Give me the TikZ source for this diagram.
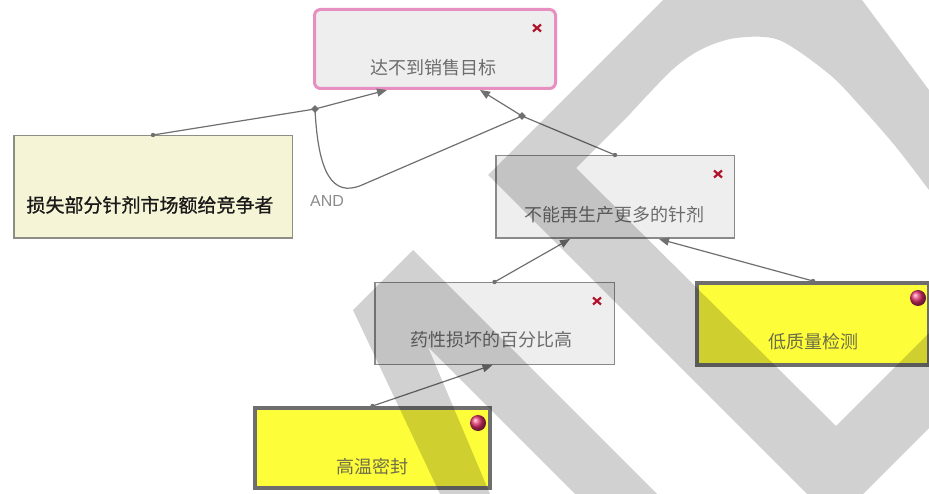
\documentclass[tikz,border=0pt]{standalone}
\usepackage{fontspec}
\setmainfont{Liberation Sans}
\newfontfamily\cjk{Noto Sans CJK SC}
\newfontfamily\cjkheavy[FakeBold=0.9]{Noto Sans CJK SC}
\usetikzlibrary{arrows.meta,calc,shapes.geometric}
\definecolor{boxgray}{HTML}{8A8A8A}
\definecolor{boxfill}{HTML}{EEEEEE}
\definecolor{leftfill}{HTML}{F6F4D6}
\definecolor{leftborder}{HTML}{8E8E84}
\definecolor{pinkb}{HTML}{E78FC0}
\definecolor{yell}{HTML}{FDFD3A}
\definecolor{yborder}{HTML}{6E6E6E}
\definecolor{linegray}{HTML}{707070}
\definecolor{txtgray}{HTML}{6C6C6C}
\definecolor{ytxt}{HTML}{6E6E48}
\definecolor{xred}{HTML}{B0142C}
\definecolor{ballc}{HTML}{E0306A}
\definecolor{andgray}{HTML}{8C8C8C}
\begin{document}
\begin{tikzpicture}[x=1pt,y=-1pt,
  graybox/.style={rectangle, draw=boxgray, line width=1.5pt, fill=boxfill, inner sep=0pt},
  topbox/.style={rectangle, rounded corners=6pt, draw=pinkb, line width=3pt, fill=boxfill, inner sep=0pt},
  leftbox/.style={rectangle, draw=leftborder, line width=1.5pt, fill=leftfill, inner sep=0pt},
  ybox/.style={rectangle, draw=yborder, line width=4pt, fill=yell, inner sep=0pt},
  txt/.style={inner sep=0pt, text height=15.8pt, text depth=2.2pt, font=\cjk\fontsize{18}{18}\selectfont, text=txtgray},
  conn/.style={draw=linegray, line width=1.2pt},
  arr/.style={-{Triangle[length=10pt,width=8pt]}},
  junc/.style={diamond, fill=linegray, inner sep=0pt, minimum size=8pt},
  wm/.style={fill=black, fill opacity=0.18},
  xm/.pic={\draw[line width=2.2pt, draw=xred] (-4,-3.5) -- (4,3.5) (-4,3.5) -- (4,-3.5);}
]
\useasboundingbox (0,0) rectangle (929,494);
\fill[white] (0,0) rectangle (929,494);

% boxes
\node[topbox, minimum width=241pt, minimum height=79pt] (n1) at (435,49) {};
\node[leftbox, minimum width=278.5pt, minimum height=102.5pt] (n2) at (153,187) {};
\node[graybox, minimum width=238.5pt, minimum height=82.5pt] (n3) at (615,197) {};
\node[graybox, minimum width=239.5pt, minimum height=81.5pt] (n4) at (494.5,323.5) {};
\node[ybox, minimum width=232pt, minimum height=82pt] (n5) at (813,324) {};
\node[ybox, minimum width=235pt, minimum height=80pt] (n6) at (372.5,448) {};

% texts
\node[txt] (t1) at (433,68) {达不到销售目标};
\node[txt, text=black!90, font=\cjkheavy\fontsize{19}{19}\selectfont, text height=16.7pt, text depth=2.3pt] (t2) at (150,205) {损失部分针剂市场额给竞争者};
\node[txt] (t3) at (614,215) {不能再生产更多的针剂};
\node[txt] (t4) at (491,340) {药性损坏的百分比高};
\node[txt, text=ytxt] (t5) at (813,342) {低质量检测};
\node[txt, text=ytxt] (t6) at (372,467) {高温密封};

% marks
\pic at ($(n1.north east)+(-20,20)$) {xm};
\pic at ($(n3.north east)+(-17,19)$) {xm};
\pic at ($(n4.north east)+(-18,19)$) {xm};
\shade[ball color=ballc] ($(n5.north east)+(-13,17)$) circle (8);
\shade[ball color=ballc] ($(n6.north east)+(-14,17)$) circle (8);

% junctions and targets
\node[junc] (j1) at (315,109) {};
\node[junc] (j2) at (522,116) {};
\coordinate (ta1) at ($(n1.south)+(-48,0)$);
\coordinate (ta2) at ($(n1.south)+(45,0)$);
\coordinate (ta3) at ($(n3.south)+(-45,0)$);
\coordinate (ta4) at ($(n3.south)+(44,0)$);
\coordinate (ta5) at ($(n4.south)+(-2,0)$);
\coordinate (andlow) at (362,185);

% connectors
\draw[conn] (n2.north) -- (j1.center);
\draw[conn, arr] (j1.center) -- (ta1);
\draw[conn] (n3.north) -- (j2.center);
\draw[conn, arr] (j2.center) -- (ta2);
\draw[conn] (j1.center) .. controls (318,172) and (332,198) .. (andlow) -- (j2.center);
\draw[conn, arr] (n4.north) -- (ta3);
\draw[conn, arr] (n5.north) -- (ta4);
\draw[conn, arr] (n6.north) -- (ta5);
\fill[linegray] (n2.north) circle (2.2) (n3.north) circle (2.2) (n4.north) circle (2.2) (n5.north) circle (2.2) (n6.north) circle (2.2);

\node[text=andgray, font=\fontsize{16}{16}\selectfont, inner sep=0pt] (andl) at (327,201) {AND};

% watermark
\begin{scope}
\clip (0,0) rectangle (929,494);
\fill[wm, even odd rule]
  (488,175) -- (663,0) -- (690,-27) .. controls (740,-75) and (830,-60) .. (862,0) -- (929,90) -- (1000,190) -- (1000,357) -- (835,522) -- cycle
  (576,168) -- (629,115) -- plot[smooth] coordinates {(629,115) (672,70) (702,49) (736,38) (779,40) (829,74) (862,108) (896,147) (929,190)} -- (1000,240) -- (1000,262) -- (836,426) -- cycle;
\fill[wm] (353,310) -- (413,250) -- (657,494) -- (575,494) -- (428,347) -- (490,494) -- (440,494) -- cycle;
\end{scope}
\end{tikzpicture}
\end{document}
